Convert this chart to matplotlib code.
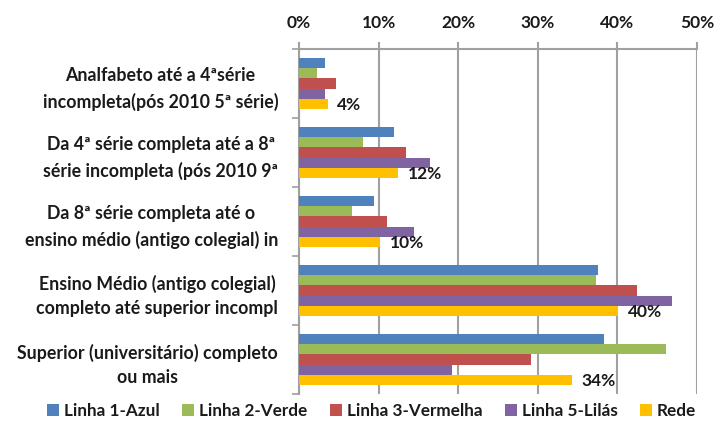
import numpy as np
import matplotlib
matplotlib.use("Agg")
import matplotlib.pyplot as plt
from matplotlib.ticker import FuncFormatter

# categorias (de cima para baixo)
categorias = [
    "Analfabeto até a 4ªsérie\nincompleta(pós 2010 5ª série)",
    "Da 4ª série completa até a 8ª\nsérie incompleta (pós 2010 9ª",
    "Da 8ª série completa até o\nensino médio (antigo colegial) in",
    "Ensino Médio (antigo colegial)\ncompleto até superior incompl",
    "Superior (universitário) completo\nou mais",
]
series = ["Linha 1-Azul", "Linha 2-Verde", "Linha 3-Vermelha", "Linha 5-Lilás", "Rede"]
azul = [3.3, 11.9, 9.4, 37.5, 38.3]
verde = [2.3, 8.1, 6.6, 37.3, 46.1]
vermelha = [4.6, 13.4, 11.1, 42.4, 29.2]
lilas = [3.3, 16.4, 14.4, 46.9, 19.2]
rede = [3.6, 12.4, 10.2, 40.1, 34.3]
cores = ["#4F81BD", "#9BBB59", "#C0504D", "#8064A2", "#FFC000"]

plt.rcParams["font.family"] = ["Lato", "DejaVu Sans"]
plt.rcParams["font.weight"] = "bold"

fig = plt.figure(figsize=(7.15, 4.22), dpi=100)
ax = fig.add_axes([299 / 715, 28 / 422, 398 / 715, 345 / 422])

dados = [azul, verde, vermelha, lilas, rede]
n = len(categorias)
y = np.arange(n)
h = 0.145
for j, (vals, cor, nome) in enumerate(zip(dados, cores, series)):
    pos = y - 2 * h + j * h
    ax.barh(pos, vals, height=h, color=cor, label=nome, zorder=3)
    if nome == "Rede":
        for p, v in zip(pos, vals):
            ax.annotate(f"{v:.0f}%", (v, p), xytext=(7, -1), textcoords="offset points",
                        va="center", ha="left", fontsize=12.5, fontweight="bold", color="#1a1a1a")

ax.set_xlim(0, 50)
ax.set_ylim(n - 0.5, -0.5)
ax.set_xticks([0, 10, 20, 30, 40, 50])
ax.xaxis.set_major_formatter(FuncFormatter(lambda v, _: f"{v:.0f}%"))
ax.xaxis.tick_top()
ax.tick_params(axis="x", length=5, width=1.5, color="#A0A0A0", labelsize=12.5, labelcolor="#1a1a1a", pad=8)
ax.grid(axis="x", color="#A0A0A0", lw=1.5, zorder=0)

ax.set_yticks(y)
ax.set_yticklabels(categorias, ha="right", multialignment="center", fontsize=12.8,
                   color="#1a1a1a", linespacing=1.55)
ax.tick_params(axis="y", length=0, pad=15)
ax.set_yticks(np.arange(n + 1) - 0.5, minor=True)
ax.tick_params(axis="y", which="minor", length=5, width=1.2, color="#A0A0A0")

for s in ["right", "bottom"]:
    ax.spines[s].set_visible(False)
ax.spines["top"].set_color("#A0A0A0")
ax.spines["top"].set_linewidth(1.5)
ax.spines["left"].set_color("#A0A0A0")
ax.spines["left"].set_linewidth(1.5)

fig.legend(loc="lower center", bbox_to_anchor=(0.52, -0.03), ncol=5, frameon=False,
           handlelength=0.7, handleheight=0.7, handletextpad=0.3, columnspacing=1.3,
           fontsize=12.3, labelcolor="#1a1a1a")

fig.savefig("out.png", dpi=100)
